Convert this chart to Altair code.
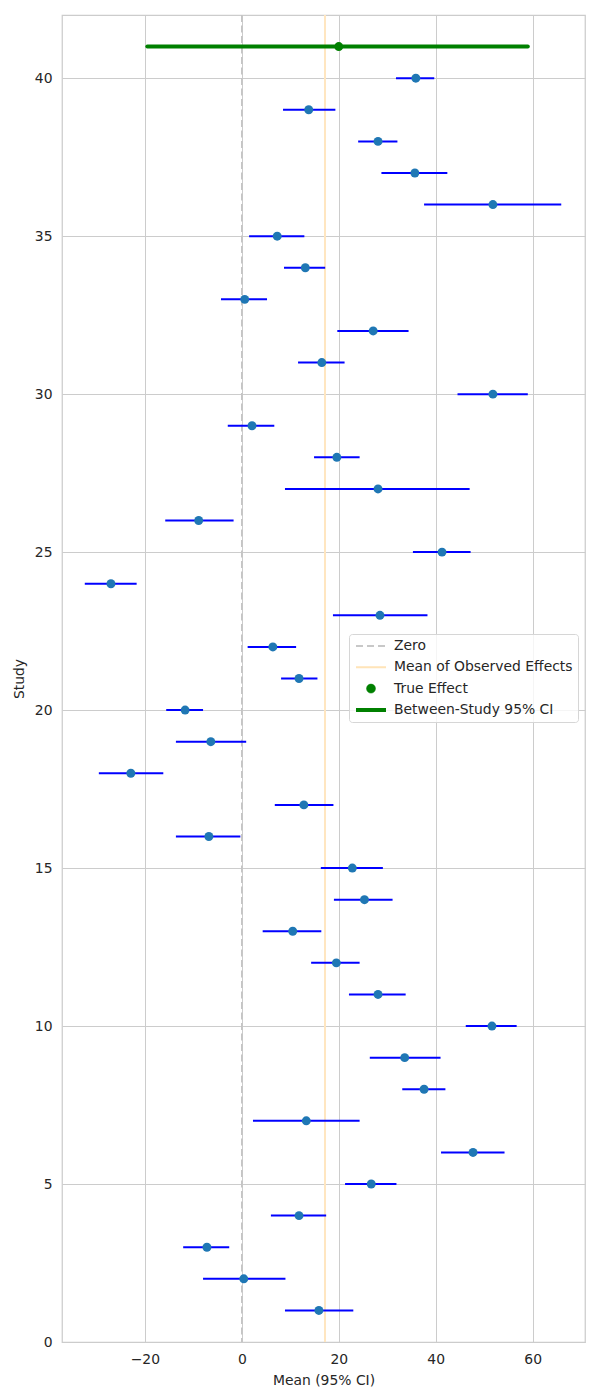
import altair as alt
import pandas as pd

# Study-level estimates (mean with 95% CI), studies 1..40
study = list(range(1, 41))
mean = [15.9, 0.4, -7.2, 11.8, 26.7, 47.7, 13.3, 37.6, 33.6, 51.6,
        28.1, 19.5, 10.5, 25.3, 22.8, -6.8, 12.8, -22.9, -6.4, -11.7,
        11.8, 6.4, 28.5, -27.0, 41.3, -8.9, 28.1, 19.6, 2.1, 51.8,
        16.5, 27.1, 0.6, 13.1, 7.3, 51.8, 35.7, 28.1, 13.8, 35.9]
lower = [8.9, -8.0, -12.1, 6.0, 21.3, 41.1, 2.3, 33.1, 26.4, 46.2,
         22.1, 14.3, 4.3, 19.0, 16.3, -13.6, 6.8, -29.5, -13.6, -15.6,
         8.1, 1.2, 18.8, -32.4, 35.3, -15.8, 8.9, 14.9, -2.9, 44.5,
         11.6, 19.7, -4.3, 8.7, 1.5, 37.6, 28.8, 24.0, 8.5, 31.8]
upper = [23.0, 9.0, -2.6, 17.4, 31.9, 54.2, 24.3, 42.0, 41.0, 56.7,
         33.8, 24.3, 16.4, 31.1, 29.1, -0.3, 18.9, -16.2, 0.9, -8.0,
         15.6, 11.2, 38.3, -21.7, 47.2, -1.7, 47.0, 24.3, 6.7, 59.0,
         21.2, 34.4, 5.2, 17.2, 12.9, 65.9, 42.4, 32.1, 19.3, 39.7]

# Pooled true effect and its between-study interval, drawn above the studies
true_row = [41]
true_effect = [20.0]
true_lower = [-19.5]
true_upper = [59.0]

legend_items = ["Zero", "Mean of Observed Effects", "True Effect", "Between-Study 95% CI"]

df = pd.DataFrame({"study": study, "mean": mean, "lower": lower, "upper": upper})
true_df = pd.DataFrame({"study": true_row, "mean": true_effect,
                        "lower": true_lower, "upper": true_upper})
zero_df = pd.DataFrame({"zero": [0]})
legend_df = pd.DataFrame({"item": legend_items, "x": [None] * len(legend_items)})

TEXT = "#262626"
FONT = "DejaVu Sans"

xscale = alt.Scale(domain=[-37.1, 70.8], nice=False, zero=False)
yscale = alt.Scale(domain=[0, 42], nice=False, zero=False)
xaxis = alt.Axis(title="Mean (95% CI)", values=[-20, 0, 20, 40, 60])
yaxis = alt.Axis(title="Study", values=[0, 5, 10, 15, 20, 25, 30, 35, 40])

zero_line = alt.Chart(zero_df).mark_rule(
    color="#c4c4c4", strokeWidth=1.6, strokeDash=[7, 3.5]
).encode(x=alt.X("zero:Q", scale=xscale, axis=xaxis))

mean_line = alt.Chart(df).transform_aggregate(
    avg="mean(mean)"
).mark_rule(color="#ffe6c0", strokeWidth=2).encode(
    x=alt.X("avg:Q", scale=xscale, axis=xaxis)
)

ci_bars = alt.Chart(df).mark_rule(color="#0000ff", strokeWidth=2).encode(
    x=alt.X("lower:Q", scale=xscale, axis=xaxis),
    x2="upper:Q",
    y=alt.Y("study:Q", scale=yscale, axis=yaxis),
)

points = alt.Chart(df).mark_circle(color="#1f77b4", size=80, opacity=1).encode(
    x=alt.X("mean:Q", scale=xscale, axis=xaxis),
    y=alt.Y("study:Q", scale=yscale, axis=yaxis),
)

true_ci = alt.Chart(true_df).mark_rule(
    color="#008000", strokeWidth=4, strokeCap="round"
).encode(
    x=alt.X("lower:Q", scale=xscale, axis=xaxis),
    x2="upper:Q",
    y=alt.Y("study:Q", scale=yscale, axis=yaxis),
)

true_point = alt.Chart(true_df).mark_circle(color="#008000", size=80, opacity=1).encode(
    x=alt.X("mean:Q", scale=xscale, axis=xaxis),
    y=alt.Y("study:Q", scale=yscale, axis=yaxis),
)

# Legend: one merged legend built from several channels sharing a domain
line_path = "M-1,0L1,0"
dot_path = "M-0.3,0A0.3,0.3,0,1,1,0.3,0A0.3,0.3,0,1,1,-0.3,0Z"
legend_layer = alt.Chart(legend_df).mark_point(opacity=1).encode(
    x=alt.X("x:Q", scale=xscale, axis=xaxis),
    stroke=alt.Stroke("item:N", title=None, scale=alt.Scale(
        domain=legend_items, range=["#c8c8c8", "#ffe4b8", "#008000", "#008000"])),
    fill=alt.Fill("item:N", title=None, scale=alt.Scale(
        domain=legend_items, range=["transparent", "transparent", "#008000", "transparent"])),
    shape=alt.Shape("item:N", title=None, scale=alt.Scale(
        domain=legend_items, range=[line_path, line_path, dot_path, line_path])),
    strokeDash=alt.StrokeDash("item:N", title=None, scale=alt.Scale(
        domain=legend_items, range=[[7, 4], [1, 0], [1, 0], [1, 0]])),
    strokeWidth=alt.StrokeWidth("item:N", title=None, scale=alt.Scale(
        type="ordinal", domain=legend_items, range=[2, 2, 0.5, 4])),
)

chart = alt.layer(
    zero_line, mean_line, ci_bars, points, true_ci, true_point, legend_layer
).properties(
    width=523,
    height=1327,
    padding={"left": 62, "top": 15, "right": 15, "bottom": 58},
    autosize=alt.AutoSizeParams(type="none"),
    background="white",
).configure_view(
    stroke="#cccccc", strokeWidth=1.25
).configure_axis(
    grid=True, gridColor="#cccccc", gridWidth=1,
    domain=False, ticks=False,
    labelFont=FONT, labelFontSize=13.9, labelColor=TEXT, labelPadding=10,
    titleFont=FONT, titleFontSize=13.9, titleColor=TEXT, titleFontWeight="normal",
).configure_axisX(titlePadding=8).configure_axisY(titlePadding=8).configure_legend(
    orient="none", legendX=287, legendY=619,
    labelFont=FONT, labelFontSize=13.9, labelColor=TEXT, labelOffset=6,
    labelLimit=400,
    symbolSize=900, clipHeight=14, rowPadding=7.3,
    padding=5, fillColor="rgba(255,255,255,0.8)", strokeColor="#d6d6d6",
    cornerRadius=3,
)

chart.save("out.html", embed_options={"renderer": "svg", "actions": False})
